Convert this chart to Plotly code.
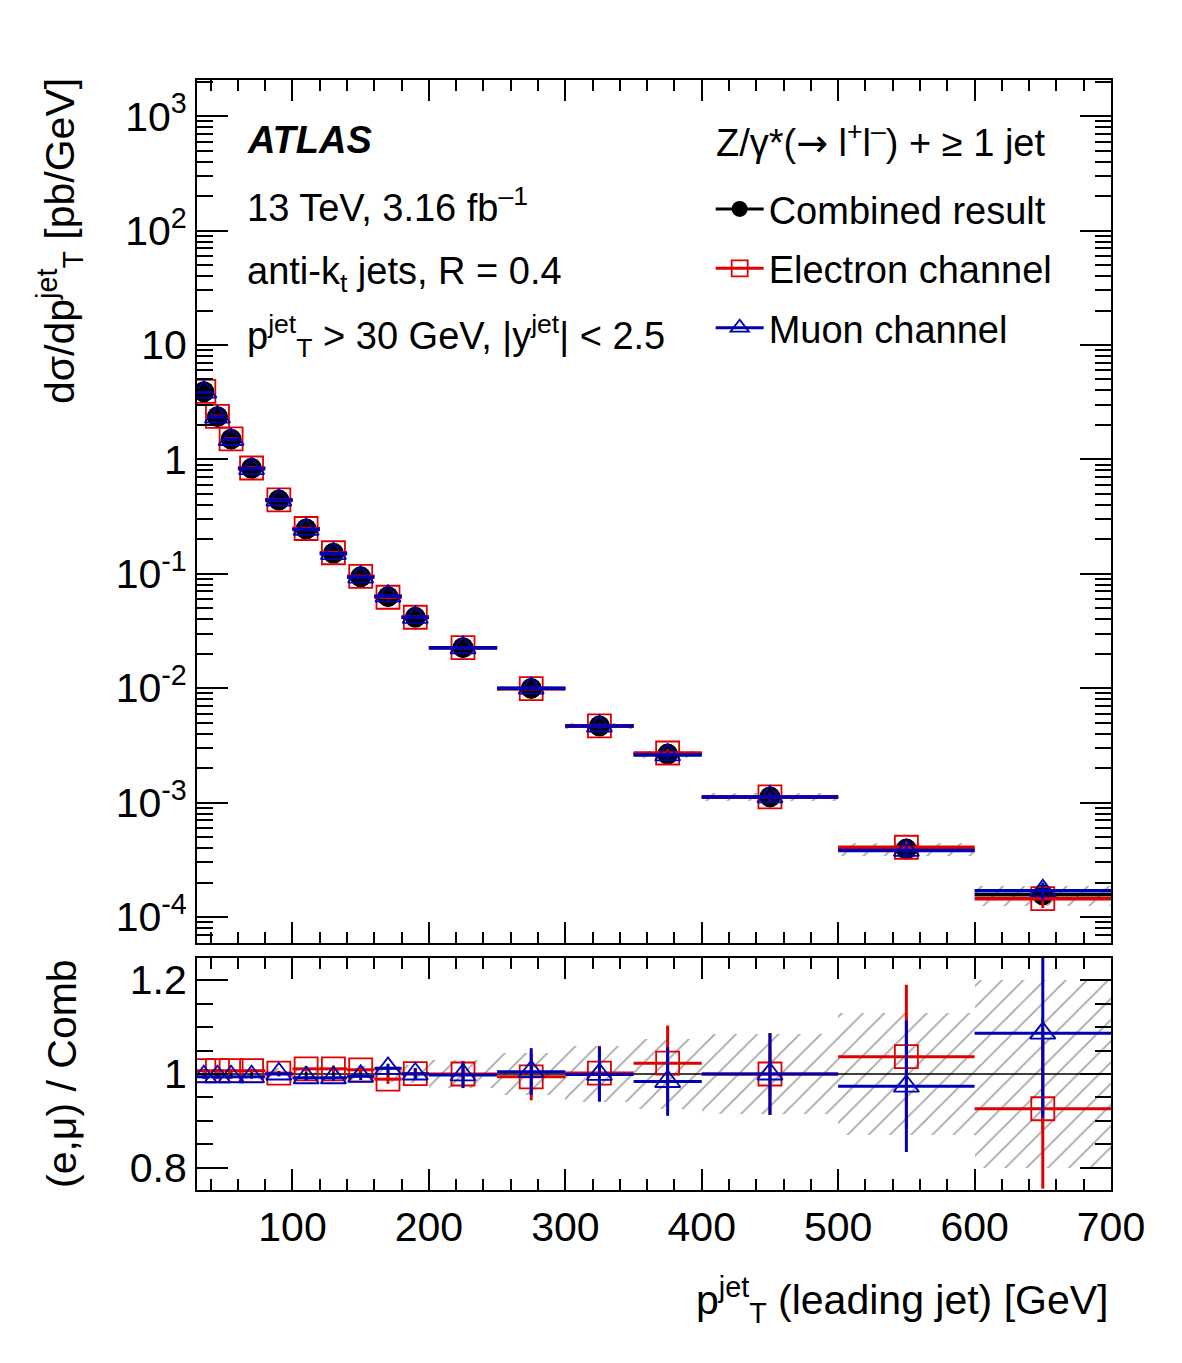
import plotly.graph_objects as go

# ---------------- data ----------------
bin_lo = [30, 40, 50, 60, 80, 100, 120, 140, 160, 180, 200, 250, 300, 350, 400, 500, 600]
bin_hi = [40, 50, 60, 80, 100, 120, 140, 160, 180, 200, 250, 300, 350, 400, 500, 600, 700]

comb_xs = [3.90, 2.36, 1.50, 0.834, 0.441, 0.246, 0.151, 0.094, 0.063, 0.0416,
           0.0226, 0.00995, 0.00467, 0.00265, 0.00112, 0.000392, 0.000156]

# total uncertainty of combined result (relative, hatched band)
comb_tot = [0.010, 0.010, 0.010, 0.010, 0.012, 0.013, 0.014, 0.016, 0.018, 0.020,
            0.030, 0.045, 0.060, 0.075, 0.085, 0.130, 0.200]
# statistical uncertainty of combined result (relative)
comb_stat = [0.003, 0.003, 0.003, 0.004, 0.004, 0.005, 0.006, 0.007, 0.008, 0.009,
             0.012, 0.02, 0.025, 0.035, 0.045, 0.07, 0.12]

# channel / combined ratios
e_ratio = [1.007, 1.007, 1.007, 1.007, 1.002, 1.011, 1.011, 1.009, 0.989, 1.001,
           1.000, 0.994, 1.002, 1.023, 1.000, 1.037, 0.926]
m_ratio = [0.994, 0.994, 0.994, 0.994, 1.000, 0.992, 0.992, 0.995, 1.012, 1.000,
           0.998, 1.005, 0.999, 0.984, 1.000, 0.974, 1.087]
e_err = [0.004, 0.004, 0.004, 0.004, 0.005, 0.006, 0.007, 0.008, 0.010, 0.012,
         0.028, 0.050, 0.058, 0.080, 0.087, 0.153, 0.170]
m_err = [0.004, 0.004, 0.004, 0.004, 0.005, 0.006, 0.007, 0.008, 0.010, 0.012,
         0.028, 0.050, 0.058, 0.073, 0.087, 0.140, 0.180]

y_major_vals = [1e-4, 1e-3, 1e-2, 1e-1, 1, 10, 100, 1000]
y_major_text = ["10<sup>-4</sup>", "10<sup>-3</sup>", "10<sup>-2</sup>", "10<sup>-1</sup>",
                "1", "10", "10<sup>2</sup>", "10<sup>3</sup>"]
x_tick_vals = [100, 200, 300, 400, 500, 600, 700]
r_tick_vals = [0.8, 1.0, 1.2]
r_tick_text = ["0.8", "1", "1.2"]

# ---------------- derived ----------------
xc = [(a + b) / 2 for a, b in zip(bin_lo, bin_hi)]
xw = [(b - a) for a, b in zip(bin_lo, bin_hi)]
xh = [w / 2 for w in xw]
e_xs = [c * r for c, r in zip(comb_xs, e_ratio)]
m_xs = [c * r for c, r in zip(comb_xs, m_ratio)]

RED = "#e00000"
BLUE = "#0000b4"
HATCH = dict(shape="/", fgcolor="#505050", bgcolor="rgba(0,0,0,0)", size=15,
             solidity=0.12, fillmode="overlay")
FONT = "Liberation Sans, Arial, Helvetica, sans-serif"
S_CIRC, S_SQ, S_TRI = 21, 23, 22

fig = go.Figure()

# hatched band, top panel
fig.add_trace(go.Bar(
    x=xc, width=xw,
    base=[c * (1 - u) for c, u in zip(comb_xs, comb_tot)],
    y=[c * 2 * u for c, u in zip(comb_xs, comb_tot)],
    marker=dict(color="rgba(0,0,0,0)", line=dict(width=0), pattern=HATCH),
    xaxis="x", yaxis="y", showlegend=False, hoverinfo="skip"))

# combined
fig.add_trace(go.Scatter(
    x=xc, y=comb_xs, mode="markers",
    marker=dict(symbol="circle", size=S_CIRC, color="black"),
    error_x=dict(type="data", array=xh, color="black", thickness=3.5, width=0),
    xaxis="x", yaxis="y", showlegend=False))
# electron
fig.add_trace(go.Scatter(
    x=xc, y=e_xs, mode="markers",
    marker=dict(symbol="square-open", size=S_SQ, color=RED, line=dict(width=1.8, color=RED)),
    error_x=dict(type="data", array=xh, color=RED, thickness=3.5, width=0),
    error_y=dict(type="data", array=[v * e for v, e in zip(e_xs, e_err)], color=RED, thickness=3, width=0),
    xaxis="x", yaxis="y", showlegend=False))
# muon
fig.add_trace(go.Scatter(
    x=xc, y=m_xs, mode="markers",
    marker=dict(symbol="triangle-up-open", size=S_TRI, color=BLUE, line=dict(width=1.8, color=BLUE)),
    error_x=dict(type="data", array=xh, color=BLUE, thickness=3.5, width=0),
    error_y=dict(type="data", array=[v * e for v, e in zip(m_xs, m_err)], color=BLUE, thickness=3, width=0),
    xaxis="x", yaxis="y", showlegend=False))

# ---------------- ratio panel ----------------
fig.add_trace(go.Bar(
    x=xc, width=xw,
    base=[1 - u for u in comb_tot],
    y=[2 * u for u in comb_tot],
    marker=dict(color="rgba(0,0,0,0)", line=dict(width=0), pattern=HATCH),
    xaxis="x2", yaxis="y2", showlegend=False, hoverinfo="skip"))

fig.add_trace(go.Scatter(
    x=[bin_lo[0], bin_hi[-1]], y=[1, 1], mode="lines",
    line=dict(color="black", width=1.5),
    xaxis="x2", yaxis="y2", showlegend=False, hoverinfo="skip"))

fig.add_trace(go.Scatter(
    x=xc, y=[1.0] * len(xc), mode="markers",
    marker=dict(size=1, color="black"),
    error_y=dict(type="data", array=comb_stat, color="black", thickness=2.5, width=0),
    xaxis="x2", yaxis="y2", showlegend=False))

fig.add_trace(go.Scatter(
    x=xc, y=e_ratio, mode="markers",
    marker=dict(symbol="square-open", size=S_SQ, color=RED, line=dict(width=1.8, color=RED)),
    error_x=dict(type="data", array=xh, color=RED, thickness=3, width=0),
    error_y=dict(type="data", array=e_err, color=RED, thickness=3, width=0),
    xaxis="x2", yaxis="y2", showlegend=False))
fig.add_trace(go.Scatter(
    x=xc, y=m_ratio, mode="markers",
    marker=dict(symbol="triangle-up-open", size=S_TRI, color=BLUE, line=dict(width=1.8, color=BLUE)),
    error_x=dict(type="data", array=xh, color=BLUE, thickness=3, width=0),
    error_y=dict(type="data", array=m_err, color=BLUE, thickness=3, width=0),
    xaxis="x2", yaxis="y2", showlegend=False))

# legend entries
fig.add_trace(go.Scatter(x=[None], y=[None], mode="lines+markers", name="Combined result",
                         marker=dict(symbol="circle", size=16, color="black"),
                         line=dict(color="black", width=3), xaxis="x", yaxis="y", legendgroup="a"))
fig.add_trace(go.Scatter(x=[None], y=[None], mode="lines+markers", name="Electron channel",
                         marker=dict(symbol="square-open", size=16, color=RED, line=dict(width=1.8, color=RED)),
                         line=dict(color=RED, width=3), xaxis="x", yaxis="y", legendgroup="b"))
fig.add_trace(go.Scatter(x=[None], y=[None], mode="lines+markers", name="Muon channel",
                         marker=dict(symbol="triangle-up-open", size=16, color=BLUE, line=dict(width=1.8, color=BLUE)),
                         line=dict(color=BLUE, width=3), xaxis="x", yaxis="y", legendgroup="c"))

minor_log = [k * 10.0 ** d for d in range(-5, 4) for k in range(2, 10)]

axis_common = dict(showline=True, linecolor="black", linewidth=2, mirror="allticks",
                   ticks="inside", tickcolor="black", tickwidth=2, showgrid=False,
                   zeroline=False, tickfont=dict(family=FONT, size=41, color="black"))

fig.update_layout(
    width=1182, height=1363,
    margin=dict(l=197, r=71, t=80, b=173),
    paper_bgcolor="white", plot_bgcolor="white",
    barmode="overlay", bargap=0,
    font=dict(family=FONT, color="black"),
    xaxis=dict(domain=[0, 1], range=[30, 700], anchor="y", showticklabels=False,
               tickvals=x_tick_vals, ticklen=21,
               minor=dict(dtick=20, tick0=0, ticks="inside", ticklen=11, tickcolor="black", tickwidth=2),
               **axis_common),
    yaxis=dict(domain=[0.2225, 1], type="log", range=[-4.228, 3.316], anchor="x",
               tickmode="array", tickvals=y_major_vals, ticktext=y_major_text, ticklen=31,
               minor=dict(tickmode="array", tickvals=minor_log, ticks="inside", ticklen=16,
                          tickcolor="black", tickwidth=2),
               **axis_common),
    xaxis2=dict(domain=[0, 1], range=[30, 700], anchor="y2", matches="x",
                tickvals=x_tick_vals, ticklen=21,
                minor=dict(dtick=20, tick0=0, ticks="inside", ticklen=11, tickcolor="black", tickwidth=2),
                **axis_common),
    yaxis2=dict(domain=[0, 0.209], range=[0.753, 1.247], anchor="x2",
                tickvals=r_tick_vals, ticktext=r_tick_text, ticklen=31,
                minor=dict(dtick=0.05, tick0=0, ticks="inside", ticklen=16, tickcolor="black", tickwidth=2),
                **axis_common),
    legend=dict(x=0.562, y=0.912, xanchor="left", yanchor="top",
                font=dict(family=FONT, size=38, color="black"),
                bgcolor="rgba(0,0,0,0)", tracegroupgap=7, itemwidth=48),
)

ann = []
def txt(text, x, y, size=38, xanchor="left", yanchor="middle", **kw):
    ann.append(dict(text=text, x=x, y=y, xref="paper", yref="paper", showarrow=False,
                    xanchor=xanchor, yanchor=yanchor,
                    font=dict(family=FONT, size=size, color="black"), **kw))

txt("<b><i>ATLAS</i></b>", 0.0525, 0.9459)
txt("13 TeV, 3.16 fb<sup>–1</sup>", 0.0525, 0.8875)
txt("anti-k<sub>t</sub> jets, R = 0.4", 0.0525, 0.8255)
txt("p<sup>jet</sup><sub>T</sub> > 30 GeV, |y<sup>jet</sup>| < 2.5", 0.0525, 0.769)
txt("Z/γ*(<span style='font-family:DejaVu Sans'>→</span> l<sup>+</sup>l<sup>–</sup>) + ≥ 1 jet",
    0.566, 0.9459)

# axis titles
txt("dσ/dp<sup>jet</sup><sub>T</sub> [pb/GeV]", 0, 1, size=41, xanchor="center", yanchor="top",
    textangle=-90, xshift=-137, yshift=4)
txt("(e,μ) / Comb", 0, 0.1045, size=41, xanchor="center", yanchor="middle",
    textangle=-90, xshift=-135)
txt("p<sup>jet</sup><sub>T</sub> (leading jet) [GeV]", 1, 0, size=41, xanchor="right",
    yanchor="middle", yshift=-110)

fig.update_layout(annotations=ann)
fig.write_html("out.html")
